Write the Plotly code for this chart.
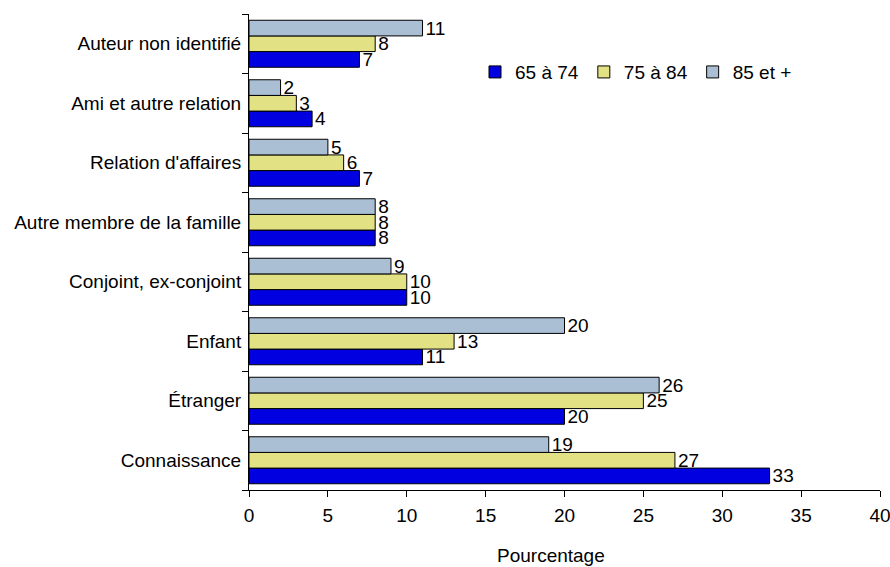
import plotly.graph_objects as go

# Categories listed bottom to top (as drawn on the axis)
categories = [
    "Connaissance",
    "Étranger",
    "Enfant",
    "Conjoint, ex-conjoint",
    "Autre membre de la famille",
    "Relation d'affaires",
    "Ami et autre relation",
    "Auteur non identifié",
]
series_names = ["65 à 74", "75 à 84", "85 et +"]
age_65_74 = [33, 20, 11, 10, 8, 7, 4, 7]
age_75_84 = [27, 25, 13, 10, 8, 6, 3, 8]
age_85_plus = [19, 26, 20, 9, 8, 5, 2, 11]
x_ticks = [0, 5, 10, 15, 20, 25, 30, 35, 40]

colors = ["#0000E0", "#E2E285", "#AABFD3"]
FONT = "Liberation Sans, Arial, sans-serif"
FS = 19

fig = go.Figure()
for name, vals, col in zip(series_names, [age_65_74, age_75_84, age_85_plus], colors):
    fig.add_trace(go.Bar(
        y=categories, x=vals, orientation="h", name=name,
        marker=dict(color=col, line=dict(color="#000000", width=1)),
        text=[str(v) for v in vals], textposition="outside",
        textfont=dict(family=FONT, size=FS, color="#000000"),
        constraintext="none", cliponaxis=False,
    ))

fig.update_layout(
    width=890, height=567,
    margin=dict(l=249, r=10, t=14, b=77, autoexpand=False),
    paper_bgcolor="white", plot_bgcolor="white",
    barmode="group", bargap=0.21, bargroupgap=0,
    font=dict(family=FONT, size=FS, color="#000000"),
    legend=dict(
        orientation="h", x=(475 - 249) / 631, y=0.878, xanchor="left", yanchor="middle",
        traceorder="normal", font=dict(family=FONT, size=FS),
        bgcolor="rgba(0,0,0,0)", itemclick=False,
    ),
    showlegend=True,
)
fig.update_xaxes(
    range=[0, 40], tickvals=x_ticks, ticktext=[str(t) for t in x_ticks],
    showline=True, linecolor="#000000", linewidth=1,
    ticks="outside", ticklen=6, tickcolor="#000000",
    showgrid=False, zeroline=False, automargin=False,
    ticklabelstandoff=2, ticklabeloverflow="allow",
    tickfont=dict(family=FONT, size=FS),
)
fig.update_yaxes(
    type="category", categoryorder="array", categoryarray=categories,
    showline=True, linecolor="#000000", linewidth=1,
    ticks="outside", ticklen=6, tickcolor="#000000", tickson="boundaries",
    showgrid=False, zeroline=False, automargin=False,
    ticklabelstandoff=3, ticklabeloverflow="allow",
    tickfont=dict(family=FONT, size=FS),
)
fig.add_annotation(
    text="Pourcentage", xref="paper", yref="paper",
    x=(551 - 249) / 631, y=0, yshift=-65, yanchor="middle", xanchor="center",
    showarrow=False, font=dict(family=FONT, size=FS),
)

fig.write_html(
    "out.html",
    config={"displayModeBar": False},
    post_script="document.body.style.margin='0';document.body.style.overflow='hidden';",
)
